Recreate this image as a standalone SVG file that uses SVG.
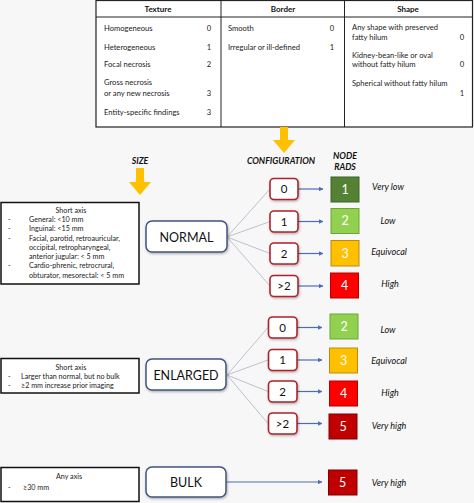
<svg xmlns="http://www.w3.org/2000/svg" width="474" height="503" viewBox="0 0 474 503">
<defs>
<style>
.t{font-family:Lato,"Liberation Sans",sans-serif;font-size:7.6px;fill:#222}
.th{font-family:Lato,"Liberation Sans",sans-serif;font-size:8px;font-weight:bold;fill:#111;text-anchor:middle}
.n{text-anchor:middle}
.hd{font-family:Lato,"Liberation Sans",sans-serif;font-size:8.8px;font-weight:bold;font-style:italic;fill:#111;text-anchor:middle}
.cfg rect{fill:#fff;stroke:#b0232a;stroke-width:1.6}
.cfg text{font-family:Lato,"Liberation Sans",sans-serif;font-size:11.5px;fill:#111;text-anchor:middle}
.rad rect{stroke-width:1}
.rad text{font-family:Lato,"Liberation Sans",sans-serif;font-size:12.5px;fill:#fff;text-anchor:middle}
.lbl{font-family:Lato,"Liberation Sans",sans-serif;font-size:9px;font-style:italic;fill:#111;text-anchor:middle}
.cat rect{fill:#fff;stroke:#40557f;stroke-width:1.5}
.cat text{font-family:Lato,"Liberation Sans",sans-serif;font-size:12.5px;fill:#111;text-anchor:middle}
.sz rect{fill:#fff;stroke:#111;stroke-width:1.5}
.sz text{font-family:Lato,"Liberation Sans",sans-serif;font-size:7.2px;fill:#222}
.conn line{stroke:#aab4c6;stroke-width:0.8}
.conn .ar{stroke:#4a6fb5;stroke-width:1.2;marker-end:url(#ah)}
.ya{fill:#FFC000}
</style>
<marker id="ah" viewBox="0 0 6 6" refX="5.5" refY="3" markerWidth="4" markerHeight="4" orient="auto" markerUnits="strokeWidth">
<path d="M0,0 L6,3 L0,6 z" fill="#4a6fb5"/>
</marker>
<filter id="sh" x="-20%" y="-20%" width="150%" height="160%">
<feDropShadow dx="0.8" dy="1.2" stdDeviation="0.9" flood-color="#000" flood-opacity="0.3"/>
</filter>
</defs>
<rect width="474" height="503" fill="#f7f7f7"/>

<!-- table -->
<g id="table">
<rect x="96" y="0.5" width="376.5" height="126.5" fill="#fff" stroke="#222" stroke-width="1.2"/>
<line x1="96" y1="17" x2="472.5" y2="17" stroke="#222" stroke-width="1"/>
<line x1="221" y1="0" x2="221" y2="127" stroke="#222" stroke-width="1"/>
<line x1="344.5" y1="0" x2="344.5" y2="127" stroke="#222" stroke-width="1"/>
<text class="th" x="158" y="11.5">Texture</text>
<text class="th" x="283" y="11.5">Border</text>
<text class="th" x="408" y="11.5">Shape</text>
<text class="t" x="104" y="30.5">Homogeneous</text><text class="t n" x="209" y="30.5">0</text>
<text class="t" x="104" y="49.5">Heterogeneous</text><text class="t n" x="209" y="49.5">1</text>
<text class="t" x="104" y="66.5">Focal necrosis</text><text class="t n" x="209" y="66.5">2</text>
<text class="t" x="104" y="84.5">Gross necrosis</text>
<text class="t" x="104" y="95.5">or any new necrosis</text><text class="t n" x="209" y="95.5">3</text>
<text class="t" x="104" y="114.5">Entity-specific findings</text><text class="t n" x="209" y="114.5">3</text>
<text class="t" x="228" y="30.5">Smooth</text><text class="t n" x="332" y="30.5">0</text>
<text class="t" x="228" y="49.5">Irregular or ill-defined</text><text class="t n" x="332" y="49.5">1</text>
<text class="t" x="352" y="29.5">Any shape with preserved</text>
<text class="t" x="352" y="39.5">fatty hilum</text><text class="t n" x="462" y="39.5">0</text>
<text class="t" x="352" y="57.5">Kidney-bean-like or oval</text>
<text class="t" x="352" y="67">without fatty hilum</text><text class="t n" x="462" y="67">0</text>
<text class="t" x="352" y="85.5">Spherical without fatty hilum</text><text class="t n" x="462" y="95.5">1</text>
</g>

<!-- headers and yellow arrows -->
<g id="headers">
<path class="ya" d="M280,127 h8 v13 h7 l-11,13 l-11,-13 h7 z"/>
<text class="hd" x="140" y="164">SIZE</text>
<path class="ya" d="M136,168 h8 v14 h7 l-11,13 l-11,-13 h7 z"/>
<text class="hd" x="281" y="164">CONFIGURATION</text>
<text class="hd" x="345" y="159">NODE</text>
<text class="hd" x="345" y="170">RADS</text>
</g>

<!-- connectors -->
<g id="connectors" class="conn">
<line x1="227" y1="237" x2="270" y2="189"/>
<line x1="227" y1="237" x2="270" y2="221.5"/>
<line x1="227" y1="237" x2="270" y2="253.5"/>
<line x1="227" y1="237" x2="270" y2="286"/>
<line x1="227" y1="375" x2="268" y2="327.5"/>
<line x1="227" y1="375" x2="268" y2="360"/>
<line x1="227" y1="375" x2="268" y2="391.5"/>
<line x1="227" y1="375" x2="268" y2="423.5"/>
<line class="ar" x1="298" y1="189" x2="323" y2="189"/>
<line class="ar" x1="298" y1="221.5" x2="323" y2="221.5"/>
<line class="ar" x1="298" y1="253.5" x2="323" y2="253.5"/>
<line class="ar" x1="298" y1="286" x2="323" y2="286"/>
<line class="ar" x1="297" y1="327.5" x2="322" y2="327.5"/>
<line class="ar" x1="297" y1="360" x2="322" y2="360"/>
<line class="ar" x1="297" y1="391.5" x2="322" y2="391.5"/>
<line class="ar" x1="297" y1="423.5" x2="322" y2="423.5"/>
<line class="ar" x1="226" y1="482" x2="322" y2="482"/>
</g>

<!-- size boxes -->
<g id="size-normal" class="sz">
<rect x="1" y="202.5" width="138" height="81.5"/>
<text x="71" y="213" text-anchor="middle">Short axis</text>
<text x="8" y="221.5">-</text><text x="29" y="221.5">General: &lt;10 mm</text>
<text x="8" y="231">-</text><text x="29" y="231">Inguinal:  &lt;15 mm</text>
<text x="8" y="240.5">-</text><text x="29" y="240.5">Facial, parotid, retroauricular,</text>
<text x="29" y="249.5">occipital, retropharyngeal,</text>
<text x="29" y="259">anterior jugular: &lt; 5 mm</text>
<text x="8" y="268">-</text><text x="29" y="268">Cardio-phrenic, retrocrural,</text>
<text x="29" y="277.5">obturator, mesorectal: &lt; 5 mm</text>
</g>
<g id="size-enlarged" class="sz">
<rect x="1" y="358.5" width="138" height="34.5"/>
<text x="71" y="369.5" text-anchor="middle">Short axis</text>
<text x="8" y="378.5">-</text><text x="21" y="378.5">Larger than normal, but no bulk</text>
<text x="8" y="388">-</text><text x="21" y="388">≥2 mm increase prior imaging</text>
</g>
<g id="size-bulk" class="sz">
<rect x="1" y="467.5" width="138" height="34"/>
<text x="69" y="478.5" text-anchor="middle">Any axis</text>
<text x="8" y="489.5">-</text><text x="23" y="489.5">≥30 mm</text>
</g>

<!-- category boxes -->
<g id="normal" class="cat"><rect x="146" y="221" width="81" height="31" rx="6" filter="url(#sh)"/><text x="186.5" y="241.5">NORMAL</text></g>
<g id="enlarged" class="cat"><rect x="146" y="359" width="80" height="31" rx="6" filter="url(#sh)"/><text x="186" y="379.5">ENLARGED</text></g>
<g id="bulk" class="cat"><rect x="146" y="467" width="80" height="30" rx="6" filter="url(#sh)"/><text x="186" y="487">BULK</text></g>

<!-- configuration boxes -->
<g id="cfg-n0" class="cfg"><rect x="270" y="178.5" width="28" height="21" rx="4" filter="url(#sh)"/><text x="284" y="193">0</text></g>
<g id="cfg-n1" class="cfg"><rect x="270" y="211" width="28" height="21" rx="4" filter="url(#sh)"/><text x="284" y="225.5">1</text></g>
<g id="cfg-n2" class="cfg"><rect x="270" y="243" width="28" height="21" rx="4" filter="url(#sh)"/><text x="284" y="257.5">2</text></g>
<g id="cfg-n3" class="cfg"><rect x="270" y="275.5" width="28" height="21" rx="4" filter="url(#sh)"/><text x="284" y="290">&gt;2</text></g>
<g id="cfg-e0" class="cfg"><rect x="268.5" y="317" width="28.5" height="21" rx="4" filter="url(#sh)"/><text x="282.5" y="331.5">0</text></g>
<g id="cfg-e1" class="cfg"><rect x="268.5" y="349.5" width="28.5" height="21" rx="4" filter="url(#sh)"/><text x="282.5" y="364">1</text></g>
<g id="cfg-e2" class="cfg"><rect x="268.5" y="381" width="28.5" height="21" rx="4" filter="url(#sh)"/><text x="282.5" y="395.5">2</text></g>
<g id="cfg-e3" class="cfg"><rect x="268.5" y="413" width="28.5" height="21" rx="4" filter="url(#sh)"/><text x="282.5" y="427.5">&gt;2</text></g>

<!-- node rads -->
<g id="rad-n1" class="rad"><rect x="331" y="177" width="28" height="25" fill="#548235" stroke="#3f6428"/><text x="345" y="193.5">1</text></g>
<g id="rad-n2" class="rad"><rect x="331" y="208.5" width="28" height="25" fill="#92D050" stroke="#6fa33a"/><text x="345" y="225">2</text></g>
<g id="rad-n3" class="rad"><rect x="331" y="240.5" width="28" height="25.5" fill="#FFC000" stroke="#b88c10"/><text x="345" y="257.5">3</text></g>
<g id="rad-n4" class="rad"><rect x="330.5" y="273" width="28" height="25" fill="#FF0000" stroke="#b30000"/><text x="344.5" y="289.5">4</text></g>
<g id="rad-e2" class="rad"><rect x="330" y="314" width="28" height="25" fill="#92D050" stroke="#6fa33a"/><text x="344" y="330.5">2</text></g>
<g id="rad-e3" class="rad"><rect x="329.5" y="348" width="28" height="25" fill="#FFC000" stroke="#b88c10"/><text x="343.5" y="364.5">3</text></g>
<g id="rad-e4" class="rad"><rect x="329.5" y="381" width="28" height="25" fill="#FF0000" stroke="#b30000"/><text x="343.5" y="397.5">4</text></g>
<g id="rad-e5" class="rad"><rect x="329" y="414" width="28" height="25" fill="#C00000" stroke="#800000"/><text x="343" y="430.5">5</text></g>
<g id="rad-b5" class="rad"><rect x="328.5" y="470" width="28.5" height="25" fill="#C00000" stroke="#800000"/><text x="342.5" y="486.5">5</text></g>

<!-- risk labels -->
<g id="labels">
<text class="lbl" x="388" y="190">Very low</text>
<text class="lbl" x="388" y="224">Low</text>
<text class="lbl" x="389" y="255">Equivocal</text>
<text class="lbl" x="390" y="287">High</text>
<text class="lbl" x="388" y="333">Low</text>
<text class="lbl" x="389" y="364">Equivocal</text>
<text class="lbl" x="390" y="396">High</text>
<text class="lbl" x="389" y="429">Very high</text>
<text class="lbl" x="389" y="486">Very high</text>
</g>
</svg>
